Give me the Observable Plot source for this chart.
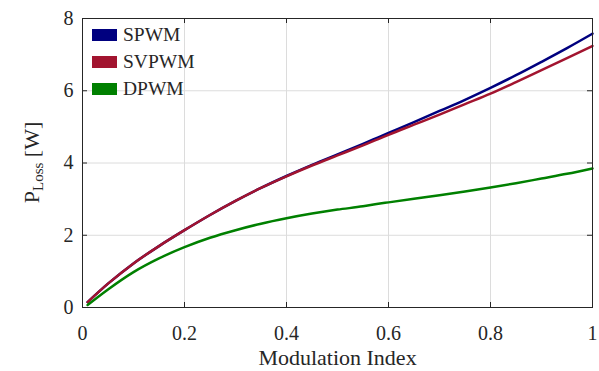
<!DOCTYPE html>
<html><head><meta charset="utf-8">
<script src="https://cdn.jsdelivr.net/npm/d3@7"></script>
<script src="https://cdn.jsdelivr.net/npm/@observablehq/plot@0.6"></script>
<style>
body{margin:0;background:#fff;}
#wrap{position:relative;width:599px;height:371px;font-family:"Liberation Serif",serif;}
#wrap svg, #wrap svg text{font-family:"Liberation Serif",serif !important;}
.legend{position:absolute;left:92px;top:21px;font-family:"Liberation Serif",serif;}
.row{display:flex;align-items:center;height:27.3px;font-size:19.5px;color:#262626}
.sw{width:25px;height:12px;margin-right:6px}
</style></head><body><div id="wrap"></div>
<script>
const modIndex = [0.01,0.05,0.1,0.15,0.2,0.25,0.3,0.35,0.4,0.45,0.5,0.55,0.58,0.6,0.65,0.7,0.75,0.8,0.85,0.9,0.95,1.0];
const spwm  = [0.15,0.66,1.22,1.70,2.14,2.56,2.95,3.31,3.64,3.95,4.24,4.53,4.71,4.83,5.13,5.44,5.75,6.08,6.43,6.80,7.18,7.58];
const svpwm = [0.15,0.66,1.22,1.70,2.14,2.56,2.95,3.31,3.63,3.93,4.21,4.49,4.66,4.78,5.06,5.34,5.63,5.92,6.24,6.57,6.90,7.24];
const dpwm  = [0.07,0.50,0.98,1.36,1.67,1.93,2.14,2.32,2.47,2.60,2.71,2.80,2.87,2.91,3.01,3.11,3.21,3.32,3.44,3.57,3.70,3.85];
const seriesNames = ["SPWM","SVPWM","DPWM"];
const seriesColors = ["#00007F","#A2142F","#008000"];
const xTicks = [0,0.2,0.4,0.6,0.8,1];
const yTicks = [0,2,4,6,8];

const rows = [];
[spwm, svpwm, dpwm].forEach((vals, s) => vals.forEach((v, i) => rows.push({m: modIndex[i], p: v, s: seriesNames[s]})));

const W = 599, H = 371, mL = 82, mR = 7, mT = 18, mB = 64;
const innerH = H - mT - mB, innerW = W - mL - mR;
const ink = "#262626";
const serif = "'Liberation Serif', serif";

const chart = Plot.plot({
  width: W, height: H,
  marginLeft: mL, marginRight: mR, marginTop: mT, marginBottom: mB,
  style: {fontFamily: serif, fontSize: "20px", color: ink, background: "#fff"},
  x: {domain: [0, 1]},
  y: {domain: [0, 8]},
  color: {domain: seriesNames, range: seriesColors},
  marks: [
    Plot.gridX(xTicks.slice(1, -1), {stroke: "#dcdcdc", strokeOpacity: 1}),
    Plot.gridY(yTicks.slice(1, -1), {stroke: "#dcdcdc", strokeOpacity: 1}),
    Plot.gridX(xTicks, {stroke: ink, strokeOpacity: 1, insetTop: innerH - 5}),
    Plot.gridX(xTicks, {stroke: ink, strokeOpacity: 1, insetBottom: innerH - 5}),
    Plot.gridY(yTicks, {stroke: ink, strokeOpacity: 1, insetRight: innerW - 5}),
    Plot.gridY(yTicks, {stroke: ink, strokeOpacity: 1, insetLeft: innerW - 5}),
    Plot.axisX(xTicks, {tickSize: 0, tickPadding: 18, tickFormat: d => String(d), label: "Modulation Index", labelAnchor: "center", labelOffset: 57, fontSize: 20}),
    Plot.axisY(yTicks, {tickSize: 0, tickPadding: 9, tickFormat: d => String(d), label: null, fontSize: 20}),
    Plot.line(rows, {x: "m", y: "p", stroke: "s", z: "s", strokeWidth: 2.5, curve: "monotone-x"}),
    Plot.frame({stroke: ink, strokeWidth: 1})
  ]
});
const wrap = document.getElementById("wrap");
wrap.appendChild(chart);
chart.querySelectorAll("text").forEach(t => t.setAttribute("font-family", serif));

// x-axis label: larger, no arrow
chart.querySelectorAll("[aria-label='x-axis label'] text").forEach(t => {
  t.setAttribute("font-size", "22px");
  t.textContent = "Modulation Index";
});

// y label with subscript
const ns = "http://www.w3.org/2000/svg";
const yl = document.createElementNS(ns, "text");
yl.setAttribute("transform", `translate(39,${mT + innerH / 2}) rotate(-90)`);
yl.setAttribute("text-anchor", "middle");
yl.setAttribute("fill", ink);
yl.setAttribute("font-size", "22px");
yl.setAttribute("font-family", serif);
const t1 = document.createElementNS(ns, "tspan"); t1.textContent = "P";
const t2 = document.createElementNS(ns, "tspan"); t2.textContent = "Loss"; t2.setAttribute("font-size", "15px"); t2.setAttribute("dy", "4");
const t3 = document.createElementNS(ns, "tspan"); t3.textContent = " [W]"; t3.setAttribute("dy", "-4");
yl.append(t1, t2, t3);
chart.appendChild(yl);

// legend
const leg = document.createElement("div");
leg.className = "legend";
seriesNames.forEach((n, i) => {
  const r = document.createElement("div"); r.className = "row";
  const sw = document.createElement("div"); sw.className = "sw"; sw.style.background = seriesColors[i];
  const tx = document.createElement("span"); tx.textContent = n;
  r.append(sw, tx); leg.appendChild(r);
});
wrap.appendChild(leg);
</script></body></html>
